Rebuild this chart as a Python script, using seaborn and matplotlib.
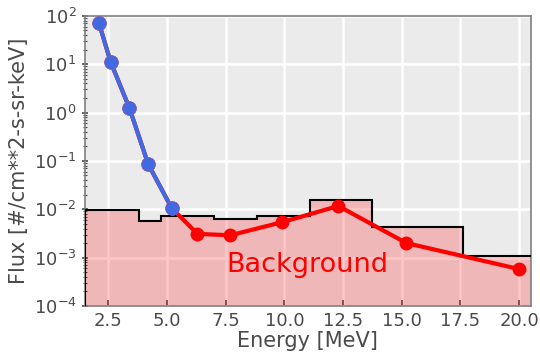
import numpy as np
import pandas as pd
import matplotlib
matplotlib.use("Agg")
import matplotlib.pyplot as plt
from matplotlib.ticker import MultipleLocator, FormatStrFormatter, LogLocator
import seaborn as sns

# Measured spectrum points
energy = [2.1, 2.6, 3.4, 4.2, 5.2, 6.3, 7.7, 9.9, 12.3, 15.2, 20.0]
flux = [72, 11.2, 1.24, 0.086, 0.0106, 0.0031, 0.0029, 0.0054, 0.0117, 0.0020, 0.00058]
n_blue = 5  # first points drawn in blue

# Background histogram
bg_edges = [1.5, 3.8, 4.73, 7.0, 8.83, 11.1, 13.74, 17.6, 20.6]
bg_values = [0.0095, 0.0057, 0.0072, 0.0064, 0.0074, 0.0158, 0.0043, 0.00107]

sns.set_theme(style="darkgrid", rc={
    "axes.facecolor": "#EBEBEB",
    "axes.edgecolor": "#7f7f7f",
    "axes.linewidth": 1.2,
    "grid.color": "white",
    "grid.linewidth": 1.8,
    "xtick.bottom": True,
    "ytick.left": True,
    "xtick.direction": "in",
    "ytick.direction": "inout",
    "xtick.color": "#4a4a4a",
    "ytick.color": "#4a4a4a",
    "axes.labelcolor": "#4a4a4a",
    "text.color": "#4a4a4a",
})
plt.rcParams["font.family"] = ["DejaVu Sans"]

fig = plt.figure(figsize=(5.4, 3.6), dpi=100)
ax = fig.add_axes([0.157, 0.15, 0.826, 0.806])

ax.set_yscale("log")
ax.stairs(bg_values, bg_edges, baseline=1e-4, fill=True, color="red", alpha=0.22,
          linewidth=0, zorder=2)
ax.stairs(bg_values, bg_edges, baseline=1e-4, fill=False, color="black",
          linewidth=1.5, zorder=3)

df = pd.DataFrame({"energy": energy, "flux": flux})
sns.lineplot(data=df, x="energy", y="flux", ax=ax, color="red", linewidth=3,
             marker="o", markersize=10, markeredgewidth=0, zorder=4)
sns.lineplot(data=df.iloc[:n_blue], x="energy", y="flux", ax=ax, color="royalblue",
             linewidth=3, marker="o", markersize=10, markeredgewidth=0.5,
             markeredgecolor="#8a5fb0", zorder=5)

ax.text(11.0, 7.0e-4, "Background", color="red", fontsize=19.5, ha="center", va="center",
        zorder=6)

ax.set_xlim(1.5, 20.5)
ax.set_ylim(1e-4, 1e2)
ax.xaxis.set_major_locator(MultipleLocator(2.5))
ax.xaxis.set_major_formatter(FormatStrFormatter("%.1f"))
ax.yaxis.set_major_locator(LogLocator(base=10, numticks=10))
ax.yaxis.set_minor_locator(LogLocator(base=10, subs=np.arange(2, 10), numticks=20))
ax.tick_params(axis="both", which="major", labelsize=13, length=4, width=1.2, pad=4)
ax.tick_params(axis="y", which="minor", length=3, width=0.8, left=True)
ax.grid(True, which="major", color="white", linewidth=1.8)
ax.grid(False, which="minor")
ax.set_axisbelow(True)
for s in ax.spines.values():
    s.set_visible(True)
    s.set_color("#7f7f7f")

ax.set_xlabel("Energy [MeV]", fontsize=15, labelpad=1)
ax.set_ylabel("Flux [#/cm**2-s-sr-keV]", fontsize=15, labelpad=3)

fig.savefig("out.png", dpi=100)
